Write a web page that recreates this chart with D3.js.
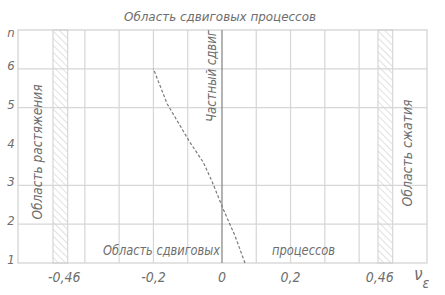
<!DOCTYPE html>
<html>
<head>
<meta charset="utf-8">
<script src="https://cdn.jsdelivr.net/npm/d3@7"></script>
<style>
  body { margin: 0; background: #fff; }
  svg { display: block; }
  text { font-family: "Liberation Sans Narrow", "DejaVu Sans Condensed", sans-serif; font-style: italic; fill: #6e6e6e; }
</style>
</head>
<body>
<div id="chart"></div>
<script>
(function() {

  "use strict";

  // curve: n (vertical) vs nu_eps (horizontal)
  var curveN = [1, 1.7, 2.4, 3.1, 3.6, 4.1, 5.1, 6];
  var curveV = [0.067, 0.038, 0.003, -0.029, -0.055, -0.093, -0.16, -0.2];

  var xTicks = [-0.46, -0.2, 0, 0.2, 0.46];
  var xTickLabels = ['-0,46', '-0,2', '0', '0,2', '0,46'];
  var xGrid = [-0.4, -0.3, -0.2, -0.1, 0.1, 0.2, 0.3, 0.4];
  var yTicks = [1, 2, 3, 4, 5, 6];
  var yGrid = [2, 3, 5, 6];
  var bands = [[-0.493, -0.45], [0.455, 0.498]];

  var width = 445, height = 295;
  var margin = { top: 30, right: 18, bottom: 32, left: 18 };

  var x = d3.scaleLinear().domain([-0.595, 0.598]).range([margin.left, width - margin.right]);
  var y = d3.scaleLinear().domain([1, 7]).range([height - margin.bottom, margin.top]);

  var svg = d3.select('#chart').append('svg')
    .attr('width', width)
    .attr('height', height);

  var defs = svg.append('defs');
  var pat = defs.append('pattern')
    .attr('id', 'hatch')
    .attr('patternUnits', 'userSpaceOnUse')
    .attr('width', 5)
    .attr('height', 5)
    .attr('patternTransform', 'rotate(-45)');
  pat.append('line')
    .attr('x1', 0).attr('y1', 0)
    .attr('x2', 0).attr('y2', 5)
    .attr('stroke', '#d4d4d4')
    .attr('stroke-width', 1.4);

  // hatched bands
  svg.selectAll('rect.band')
    .data(bands)
    .enter().append('rect')
    .attr('class', 'band')
    .attr('x', function(d) { return x(d[0]); })
    .attr('width', function(d) { return x(d[1]) - x(d[0]); })
    .attr('y', y(7))
    .attr('height', y(1) - y(7))
    .attr('fill', 'url(#hatch)')
    .attr('stroke', '#cfcfcf')
    .attr('stroke-width', 1);

  // grid
  svg.selectAll('line.vgrid')
    .data(xGrid)
    .enter().append('line')
    .attr('class', 'vgrid')
    .attr('x1', function(d) { return x(d); })
    .attr('x2', function(d) { return x(d); })
    .attr('y1', y(7))
    .attr('y2', y(1))
    .attr('stroke', '#d6d6d6')
    .attr('stroke-width', 1.2);

  svg.selectAll('line.hgrid')
    .data(yGrid)
    .enter().append('line')
    .attr('class', 'hgrid')
    .attr('x1', x.range()[0])
    .attr('x2', x.range()[1])
    .attr('y1', function(d) { return y(d); })
    .attr('y2', function(d) { return y(d); })
    .attr('stroke', '#d6d6d6')
    .attr('stroke-width', 1.2);

  svg.append('rect')
    .attr('x', x.range()[0])
    .attr('y', y(7))
    .attr('width', x.range()[1] - x.range()[0])
    .attr('height', y(1) - y(7))
    .attr('fill', 'none')
    .attr('stroke', '#d0d0d0')
    .attr('stroke-width', 1.2);

  // zero line (pure shear)
  svg.append('line')
    .attr('x1', x(0)).attr('x2', x(0))
    .attr('y1', y(7)).attr('y2', y(1))
    .attr('stroke', '#8a8a8a')
    .attr('stroke-width', 1.3);

  // curve
  var pts = curveN.map(function(n, i) { return [curveV[i], n]; });
  var line = d3.line()
    .x(function(d) { return x(d[0]); })
    .y(function(d) { return y(d[1]); });
  svg.append('path')
    .attr('d', line(pts))
    .attr('fill', 'none')
    .attr('stroke', '#7a7a7a')
    .attr('stroke-width', 1.2)
    .attr('stroke-dasharray', '3,2');

  // x tick labels
  svg.selectAll('text.xt')
    .data(xTicks)
    .enter().append('text')
    .attr('class', 'xt')
    .attr('x', function(d) { return x(d); })
    .attr('y', height - margin.bottom + 19)
    .attr('text-anchor', 'middle')
    .style('font-size', '14px')
    .text(function(d, i) { return xTickLabels[i]; });

  // y tick labels
  svg.selectAll('text.yt')
    .data(yTicks)
    .enter().append('text')
    .attr('class', 'yt')
    .attr('x', 11)
    .attr('y', function(d) { return y(d) + 1; })
    .attr('text-anchor', 'middle')
    .style('font-size', '13px')
    .text(function(d) { return d; });

  svg.append('text')
    .attr('x', 11)
    .attr('y', y(7) + 7)
    .attr('text-anchor', 'middle')
    .style('font-size', '13px')
    .text('n');

  // axis name
  var nu = svg.append('text')
    .attr('x', 414)
    .attr('y', 280)
    .style('font-size', '17px');
  nu.append('tspan').text('ν');
  nu.append('tspan')
    .attr('dy', 8)
    .style('font-size', '14px')
    .text('ε');

  // title
  svg.append('text')
    .attr('x', 220)
    .attr('y', 21)
    .attr('text-anchor', 'middle')
    .attr('textLength', 192)
    .attr('lengthAdjust', 'spacingAndGlyphs')
    .style('font-size', '13px')
    .text('Область сдвиговых процессов');

  // bottom labels
  svg.append('text')
    .attr('x', 103)
    .attr('y', 255)
    .attr('textLength', 117)
    .attr('lengthAdjust', 'spacingAndGlyphs')
    .style('font-size', '14px')
    .text('Область сдвиговых');

  svg.append('text')
    .attr('x', 272)
    .attr('y', 255)
    .attr('textLength', 63)
    .attr('lengthAdjust', 'spacingAndGlyphs')
    .style('font-size', '14px')
    .text('процессов');

  // rotated labels
  function vlabel(cx, cy, len, txt) {
    svg.append('text')
      .attr('transform', 'translate(' + cx + ',' + cy + ') rotate(-90)')
      .attr('text-anchor', 'middle')
      .attr('dy', '0.35em')
      .attr('textLength', len)
      .attr('lengthAdjust', 'spacingAndGlyphs')
      .style('font-size', '14px')
      .text(txt);
  }
  vlabel(37, 152, 135, 'Область растяжения');
  vlabel(407, 153, 107, 'Область сжатия');
  vlabel(211, 76, 92, 'Частный сдвиг');

})();
</script>
</body>
</html>
